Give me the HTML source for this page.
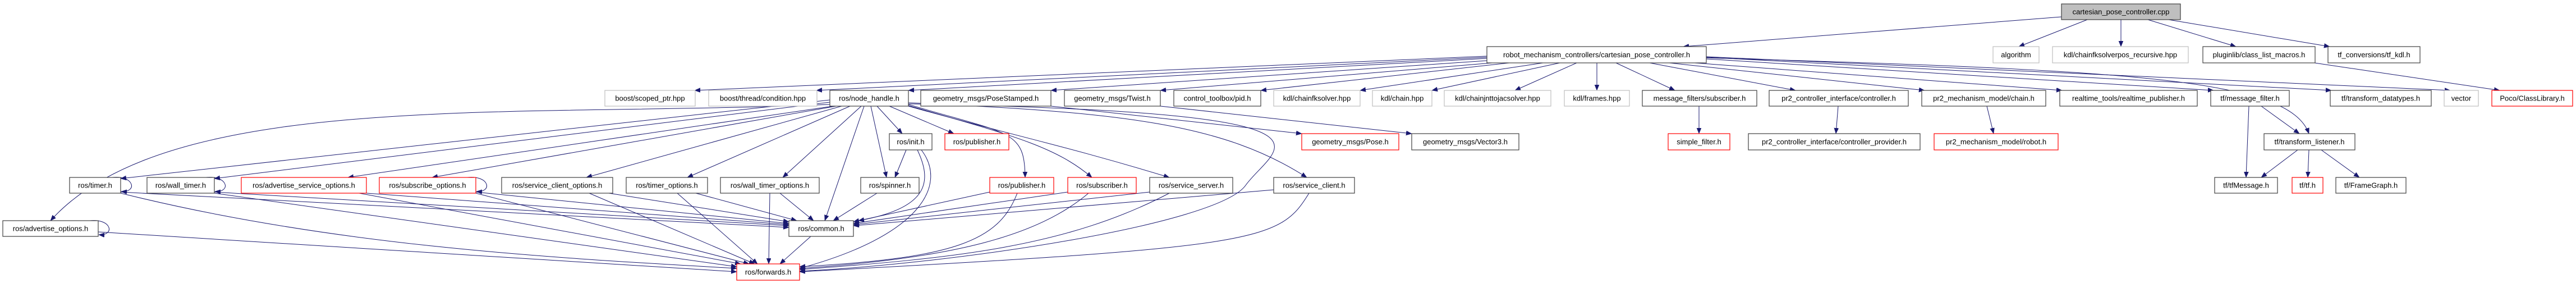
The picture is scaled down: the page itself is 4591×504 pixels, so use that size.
<!DOCTYPE html>
<html><head><meta charset="utf-8"><style>
html,body{margin:0;padding:0;background:#fff;}
svg{display:block;}
text{font-family:"Liberation Sans",sans-serif;font-size:13px;fill:#000;}
.n{fill:#fff;stroke:#404040;stroke-width:1.2;}
.r{fill:#fff;stroke:#ff0000;stroke-width:1.2;}
.g{fill:#fff;stroke:#bfbfbf;stroke-width:1.2;}
.f{fill:#bfbfbf;stroke:#404040;stroke-width:1.2;}
path{fill:none;stroke:#191970;stroke-width:1;marker-end:url(#a);}
</style></head><body>
<svg width="4591" height="504" viewBox="0 0 4591 504" xmlns="http://www.w3.org/2000/svg">
<defs><marker id="a" markerUnits="userSpaceOnUse" markerWidth="11" markerHeight="9" refX="10" refY="4" orient="auto"><polygon points="0,0 10,4 0,8" fill="#191970" stroke="#191970" stroke-width="0.5"/></marker></defs>
<!-- edges -->
<path d="M3674,30 L3000,83"/>
<path d="M3720,35 L3598,83"/>
<path d="M3780,35 L3780,83"/>
<path d="M3828,35 L3985,83"/>
<path d="M3865,35 L4152,83"/>
<path d="M4125,112 L4455,161"/>
<path d="M2650,100 L1238,161"/>
<path d="M2650,102 L1455,161"/>
<path d="M2650,104 L1619,161"/>
<path d="M2650,108 L1873,161"/>
<path d="M2660,112 L2068,161"/>
<path d="M2690,112 L2247,161"/>
<path d="M2750,112 L2424,161"/>
<path d="M2780,112 L2552,161"/>
<path d="M2810,112 L2700,161"/>
<path d="M2846,112 L2846,161"/>
<path d="M2880,112 L2985,161"/>
<path d="M2940,112 L3200,161"/>
<path d="M2975,112 L3430,161"/>
<path d="M3020,112 L3675,161"/>
<path d="M3041,105 L3945,161"/>
<path d="M3041,102 L4155,161"/>
<path d="M3041,101 L4367,161"/>
<path d="M3041,103 C3800,125 4080,140 4115,238"/>
<path d="M3028,189 L3028,238"/>
<path d="M3276,189 L3272,238"/>
<path d="M3541,189 L3553,238"/>
<path d="M4008,189 L4003,316"/>
<path d="M4030,189 L4098,238"/>
<path d="M4095,267 L4030,316"/>
<path d="M4115,267 L4113,316"/>
<path d="M4137,267 L4205,316"/>
<path d="M1873,189 L2320,238"/>
<path d="M2068,189 L2516,238"/>
<path d="M1479,178 L215,318"/>
<path d="M1479,182 L382,318"/>
<path d="M1485,189 L620,316"/>
<path d="M1490,189 L770,316"/>
<path d="M1500,189 L1045,316"/>
<path d="M1515,189 L1225,316"/>
<path d="M1535,189 L1395,316"/>
<path d="M1540,189 L1470,393"/>
<path d="M1563,189 L1608,238"/>
<path d="M1585,189 L1700,238"/>
<path d="M1552,189 L1580,316"/>
<path d="M1619,186 C1800,240 1826,230 1827,316"/>
<path d="M1619,188 C1800,240 1880,260 1946,316"/>
<path d="M1619,189 C1800,240 1900,260 2084,316"/>
<path d="M1619,183 C2000,200 2180,220 2329,316"/>
<path d="M1479,186 C900,210 300,160 90,393"/>
<path d="M1619,185 C2450,200 2270,260 2220,330 S1700,470 1425,483"/>
<path d="M1615,267 L1595,316"/>
<path d="M1635,267 C1660,320 1660,370 1530,393"/>
<path d="M1642,267 C1690,330 1640,420 1425,478"/>
<path d="M1563,344 L1485,393"/>
<path d="M215,342 L1406,405"/>
<path d="M382,342 L1406,402"/>
<path d="M653,344 L1406,400"/>
<path d="M848,342 L1406,398"/>
<path d="M1085,344 L1406,395"/>
<path d="M1240,344 L1420,393"/>
<path d="M1390,344 L1450,393"/>
<path d="M1764,342 L1521,395"/>
<path d="M1903,342 L1521,398"/>
<path d="M2049,342 L1521,400"/>
<path d="M2270,338 L1521,402"/>
<path d="M215,344 C600,440 1000,460 1313,478"/>
<path d="M382,344 L1313,475"/>
<path d="M640,344 L1320,470"/>
<path d="M848,344 L1335,470"/>
<path d="M1050,344 L1345,470"/>
<path d="M1207,344 L1350,470"/>
<path d="M1372,344 L1370,470"/>
<path d="M1445,421 L1390,470"/>
<path d="M1813,344 C1780,430 1700,460 1425,475"/>
<path d="M1940,344 C1850,420 1700,460 1425,478"/>
<path d="M2084,344 C1900,440 1700,460 1425,480"/>
<path d="M2333,344 C2280,430 2250,440 1425,484"/>
<path d="M175,413 L1313,484"/>
<path d="M200,316 C240,312 245,343 216,341"/>
<path d="M367,316 C407,312 412,343 383,341"/>
<path d="M833,316 C873,312 878,343 849,341"/>
<path d="M160,393 C200,389 205,420 176,418"/>
<!-- nodes -->
<g>
<rect class="f" x="3674" y="7" width="212" height="28"/><text x="3780" y="25.5" text-anchor="middle">cartesian_pose_controller.cpp</text>
<rect class="n" x="2650" y="83" width="391" height="29"/><text x="2845.5" y="102" text-anchor="middle">robot_mechanism_controllers/cartesian_pose_controller.h</text>
<rect class="g" x="3552" y="83" width="82" height="29"/><text x="3593" y="102" text-anchor="middle">algorithm</text>
<rect class="g" x="3658" y="83" width="242" height="29"/><text x="3779" y="102" text-anchor="middle">kdl/chainfksolverpos_recursive.hpp</text>
<rect class="n" x="3926" y="83" width="200" height="29"/><text x="4026" y="102" text-anchor="middle">pluginlib/class_list_macros.h</text>
<rect class="n" x="4149" y="83" width="164" height="29"/><text x="4231" y="102" text-anchor="middle">tf_conversions/tf_kdl.h</text>

<rect class="g" x="1078" y="161" width="161" height="28"/><text x="1158.5" y="179.5" text-anchor="middle">boost/scoped_ptr.hpp</text>
<rect class="g" x="1263" y="161" width="193" height="28"/><text x="1359.5" y="179.5" text-anchor="middle">boost/thread/condition.hpp</text>
<rect class="n" x="1479" y="161" width="140" height="28"/><text x="1549" y="179.5" text-anchor="middle">ros/node_handle.h</text>
<rect class="n" x="1641" y="161" width="232" height="28"/><text x="1757" y="179.5" text-anchor="middle">geometry_msgs/PoseStamped.h</text>
<rect class="n" x="1897" y="161" width="171" height="28"/><text x="1982.5" y="179.5" text-anchor="middle">geometry_msgs/Twist.h</text>
<rect class="n" x="2092" y="161" width="155" height="28"/><text x="2169.5" y="179.5" text-anchor="middle">control_toolbox/pid.h</text>
<rect class="g" x="2270" y="161" width="154" height="28"/><text x="2347" y="179.5" text-anchor="middle">kdl/chainfksolver.hpp</text>
<rect class="g" x="2446" y="161" width="106" height="28"/><text x="2499" y="179.5" text-anchor="middle">kdl/chain.hpp</text>
<rect class="g" x="2574" y="161" width="190" height="28"/><text x="2669" y="179.5" text-anchor="middle">kdl/chainjnttojacsolver.hpp</text>
<rect class="g" x="2788" y="161" width="116" height="28"/><text x="2846" y="179.5" text-anchor="middle">kdl/frames.hpp</text>
<rect class="n" x="2927" y="161" width="204" height="28"/><text x="3029" y="179.5" text-anchor="middle">message_filters/subscriber.h</text>
<rect class="n" x="3153" y="161" width="248" height="28"/><text x="3277" y="179.5" text-anchor="middle">pr2_controller_interface/controller.h</text>
<rect class="n" x="3425" y="161" width="221" height="28"/><text x="3535.5" y="179.5" text-anchor="middle">pr2_mechanism_model/chain.h</text>
<rect class="n" x="3671" y="161" width="245" height="28"/><text x="3793.5" y="179.5" text-anchor="middle">realtime_tools/realtime_publisher.h</text>
<rect class="n" x="3940" y="161" width="140" height="28"/><text x="4010" y="179.5" text-anchor="middle">tf/message_filter.h</text>
<rect class="n" x="4153" y="161" width="180" height="28"/><text x="4243" y="179.5" text-anchor="middle">tf/transform_datatypes.h</text>
<rect class="g" x="4356" y="161" width="61" height="28"/><text x="4386.5" y="179.5" text-anchor="middle">vector</text>
<rect class="r" x="4441" y="161" width="144" height="28"/><text x="4513" y="179.5" text-anchor="middle">Poco/ClassLibrary.h</text>

<rect class="n" x="1585" y="238" width="76" height="29"/><text x="1623" y="257" text-anchor="middle">ros/init.h</text>
<rect class="r" x="1684" y="238" width="114" height="29"/><text x="1741" y="257" text-anchor="middle">ros/publisher.h</text>
<rect class="r" x="2320" y="238" width="173" height="29"/><text x="2406.5" y="257" text-anchor="middle">geometry_msgs/Pose.h</text>
<rect class="n" x="2516" y="238" width="191" height="29"/><text x="2611.5" y="257" text-anchor="middle">geometry_msgs/Vector3.h</text>
<rect class="r" x="2973" y="238" width="110" height="29"/><text x="3028" y="257" text-anchor="middle">simple_filter.h</text>
<rect class="n" x="3116" y="238" width="306" height="29"/><text x="3269" y="257" text-anchor="middle">pr2_controller_interface/controller_provider.h</text>
<rect class="r" x="3447" y="238" width="221" height="29"/><text x="3557.5" y="257" text-anchor="middle">pr2_mechanism_model/robot.h</text>
<rect class="n" x="4035" y="238" width="162" height="29"/><text x="4116" y="257" text-anchor="middle">tf/transform_listener.h</text>

<rect class="n" x="124" y="316" width="91" height="28"/><text x="169.5" y="334.5" text-anchor="middle">ros/timer.h</text>
<rect class="n" x="262" y="316" width="120" height="28"/><text x="322" y="334.5" text-anchor="middle">ros/wall_timer.h</text>
<rect class="r" x="430" y="316" width="223" height="28"/><text x="541.5" y="334.5" text-anchor="middle">ros/advertise_service_options.h</text>
<rect class="r" x="676" y="316" width="172" height="28"/><text x="762" y="334.5" text-anchor="middle">ros/subscribe_options.h</text>
<rect class="n" x="894" y="316" width="198" height="28"/><text x="993" y="334.5" text-anchor="middle">ros/service_client_options.h</text>
<rect class="n" x="1116" y="316" width="145" height="28"/><text x="1188.5" y="334.5" text-anchor="middle">ros/timer_options.h</text>
<rect class="n" x="1284" y="316" width="176" height="28"/><text x="1372" y="334.5" text-anchor="middle">ros/wall_timer_options.h</text>
<rect class="n" x="1534" y="316" width="104" height="28"/><text x="1586" y="334.5" text-anchor="middle">ros/spinner.h</text>
<rect class="r" x="1764" y="316" width="114" height="28"/><text x="1821" y="334.5" text-anchor="middle">ros/publisher.h</text>
<rect class="r" x="1903" y="316" width="122" height="28"/><text x="1964" y="334.5" text-anchor="middle">ros/subscriber.h</text>
<rect class="n" x="2049" y="316" width="148" height="28"/><text x="2123" y="334.5" text-anchor="middle">ros/service_server.h</text>
<rect class="n" x="2270" y="316" width="144" height="28"/><text x="2342" y="334.5" text-anchor="middle">ros/service_client.h</text>
<rect class="n" x="3947" y="316" width="112" height="28"/><text x="4003" y="334.5" text-anchor="middle">tf/tfMessage.h</text>
<rect class="r" x="4085" y="316" width="55" height="28"/><text x="4112.5" y="334.5" text-anchor="middle">tf/tf.h</text>
<rect class="n" x="4163" y="316" width="125" height="28"/><text x="4225.5" y="334.5" text-anchor="middle">tf/FrameGraph.h</text>

<rect class="n" x="5" y="393" width="170" height="28"/><text x="90" y="411.5" text-anchor="middle">ros/advertise_options.h</text>
<rect class="n" x="1406" y="393" width="115" height="28"/><text x="1463.5" y="411.5" text-anchor="middle">ros/common.h</text>

<rect class="r" x="1313" y="470" width="112" height="29"/><text x="1369" y="489" text-anchor="middle">ros/forwards.h</text>
</g>
</svg>
</body></html>
